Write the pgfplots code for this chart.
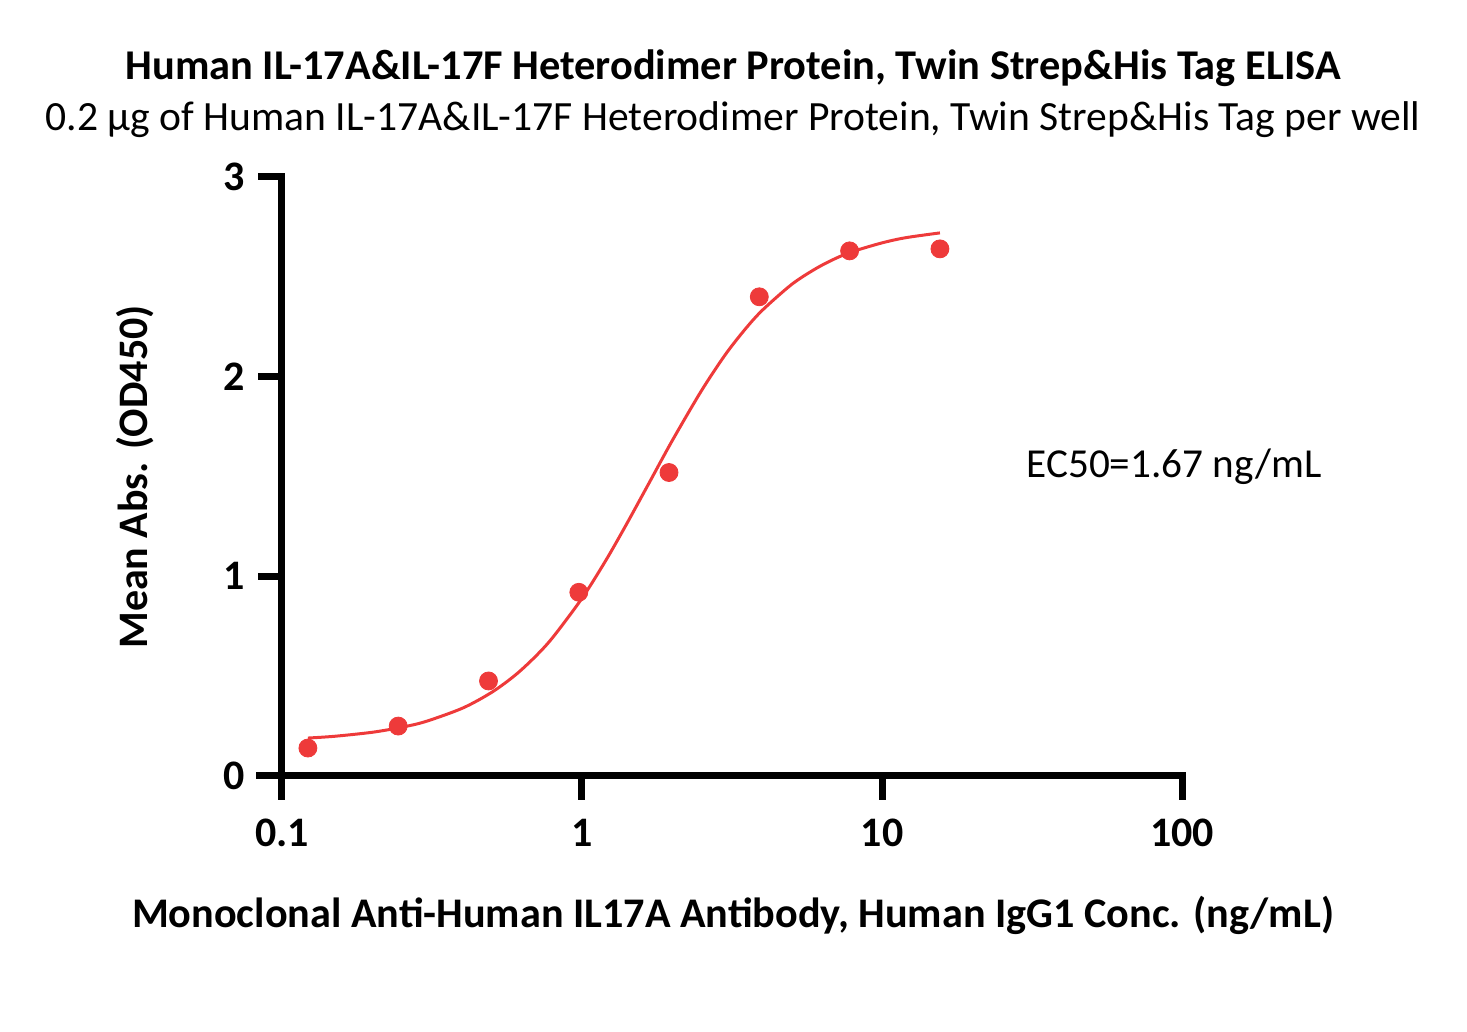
\documentclass[border=0pt]{standalone}
\usepackage{pgfplots}
\pgfplotsset{compat=1.18}
\usepackage{fontspec}
\setmainfont{Carlito}
\definecolor{dotred}{RGB}{238,58,58}
\begin{document}
\begin{tikzpicture}
\path[use as bounding box] (-141pt,-128pt) rectangle (592.5pt,388pt);
\begin{axis}[
  at={(0,0)}, anchor=south west,
  scale only axis, width=450pt, height=299.5pt,
  xmode=log, xmin=0.1, xmax=100, ymin=0, ymax=3,
  axis x line*=bottom, axis y line*=left,
  axis line style={line width=3.5pt, line cap=rect},
  xtick={0.1,1,10,100}, xticklabels={0.1,1,10,100},
  ytick={0,1,2,3},
  xminorticks=false, yminorticks=false,
  tick style={line width=3.5pt, black},
  major tick length=12pt,
  tick align=outside,
  x axis line style={shorten <=-11pt},
  /pgf/number format/assume math mode=true,
  ticklabel style={font=\fontsize{21}{24}\selectfont\bfseries},
  xticklabel style={yshift=-6pt},
  yticklabel style={xshift=-3pt},
  clip=false,
]
\addplot[dotred, line width=1.5pt, smooth, no marks] coordinates {
(0.122,0.190) (0.15,0.199) (0.2,0.219) (0.25,0.244) (0.3,0.272) (0.4,0.340)
(0.5,0.419) (0.6,0.506) (0.7,0.599) (0.8,0.695) (1,0.890) (1.2,1.079)
(1.4,1.255) (1.67,1.465) (2,1.680) (2.5,1.929) (3,2.109) (3.5,2.238)
(4,2.334) (5,2.462) (6,2.540) (7,2.592) (8,2.627) (10,2.670) (12,2.696) (15.6,2.720)
};
\addplot[only marks, mark=*, mark size=4.5pt, color=dotred, mark options={draw=none, fill=dotred}] coordinates {
(0.122,0.14) (0.244,0.25) (0.488,0.476) (0.976,0.92) (1.95,1.52) (3.9,2.40) (7.8,2.63) (15.6,2.64)
};
\end{axis}
\node[font=\fontsize{21.2}{24}\selectfont\bfseries] at (225.5pt,354pt) {Human IL-17A\&IL-17F Heterodimer Protein, Twin Strep\&His Tag ELISA};
\node[font=\fontsize{20.8}{24}\selectfont] at (225.5pt,328pt) {0.2 µg of Human IL-17A\&IL-17F Heterodimer Protein, Twin Strep\&His Tag per well};
\node[font=\fontsize{21.1}{24}\selectfont\bfseries] at (225.5pt,-69.5pt) {Monoclonal Anti-Human IL17A Antibody, Human IgG1 Conc. (ng/mL)};
\node[font=\fontsize{21}{24}\selectfont\bfseries, rotate=90] at (-73.5pt,149.5pt) {Mean Abs. (OD450)};
\node[font=\fontsize{20.6}{24}\selectfont] at (446pt,154.5pt) {EC50=1.67 ng/mL};
\end{tikzpicture}
\end{document}
